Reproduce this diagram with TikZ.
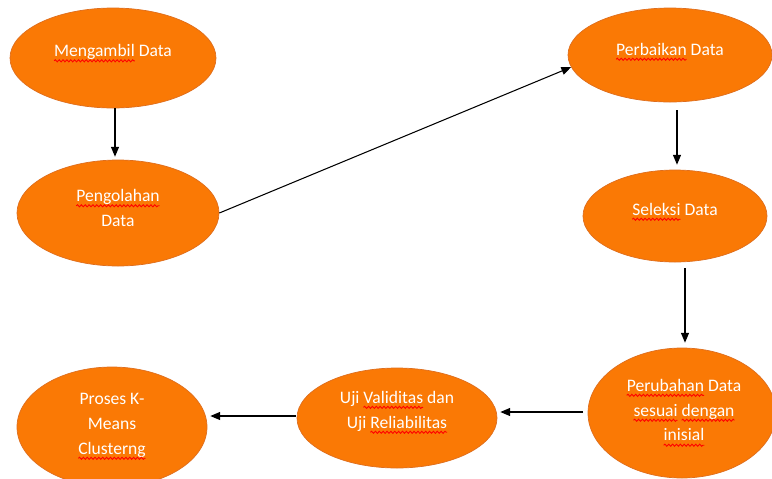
\documentclass[tikz,border=0pt]{standalone}
\usepackage{fontspec}
\setmainfont{Carlito}
\usetikzlibrary{arrows.meta,shapes.geometric,decorations.pathmorphing}
\definecolor{og}{RGB}{250,121,5}
\definecolor{ogedge}{RGB}{222,110,30}
\newcommand\sq[1]{\tikz[baseline=(w.base)]{\node[inner sep=0pt,outer sep=0pt] (w) {#1};
  \draw[overlay, red, line width=0.5pt, decorate, decoration={snake,amplitude=0.6pt,segment length=2.2pt}] ([yshift=-2.4pt]w.base west) -- ([yshift=-2.4pt]w.base east);}}
\tikzset{
  blob/.style={ellipse, fill=og, draw=ogedge, line width=0.4pt, inner sep=0pt},
  txt/.style={text=white, align=center, font=\fontsize{10}{14.2}\selectfont, inner sep=0pt},
  arr/.style={-{Triangle[length=5.5pt,width=4.5pt]}, line width=0.6pt, black}
}
\begin{document}
\begin{tikzpicture}[x=0.02cm,y=-0.02cm]
\useasboundingbox (0,0) rectangle (772,478);
\node[blob, minimum width=206*0.02cm, minimum height=100*0.02cm] (e1) at (113,58) {};
\node[blob, minimum width=202*0.02cm, minimum height=106*0.02cm] (e2) at (118,213) {};
\node[blob, minimum width=204*0.02cm, minimum height=94*0.02cm] (e3) at (670,55) {};
\node[blob, minimum width=184*0.02cm, minimum height=92*0.02cm] (e4) at (675,216) {};
\node[blob, minimum width=188*0.02cm, minimum height=130*0.02cm] (e5) at (682,413) {};
\node[blob, minimum width=200*0.02cm, minimum height=100*0.02cm] (e6) at (397,418) {};
\node[blob, minimum width=190*0.02cm, minimum height=120*0.02cm] (e7) at (112,427) {};

\node[txt] (t1) at (113,52) {\sq{Mengambil} Data};
\node[txt] (t2) at (118,208) {\sq{Pengolahan}\\Data};
\node[txt] (t3) at (670,49) {\sq{Perbaikan} Data};
\node[txt] (t4) at (675,209) {\sq{Seleksi} Data};
\node[txt] (t5) at (684,410) {\sq{Perubahan} Data\\\sq{sesuai} \sq{dengan}\\\sq{inisial}};
\node[txt] (t6) at (397,411) {Uji \sq{Validitas} dan\\Uji \sq{Reliabilitas}};
\node[txt] (t7) at (112,425) {Proses K-\\Means\\\sq{Clusterng}};

\coordinate (a1) at (115,108);
\draw[arr] (a1) -- ([yshift=0.06cm]a1 |- e2.north);
\draw[arr] (e2.east) -- (e3.187);
\coordinate (a3) at (677,110);
\draw[arr] (a3) -- ([yshift=0.1cm]a3 |- e4.north);
\coordinate (a4) at (685,268);
\draw[arr] (a4) -- ([yshift=0.1cm]a4 |- e5.north);
\coordinate (a5) at (583,412);
\draw[arr] (a5) -- ([xshift=0.06cm]e6.east |- a5);
\coordinate (a6) at (296,416);
\draw[arr] (a6) -- ([xshift=0.06cm]e7.east |- a6);
\end{tikzpicture}
\end{document}
